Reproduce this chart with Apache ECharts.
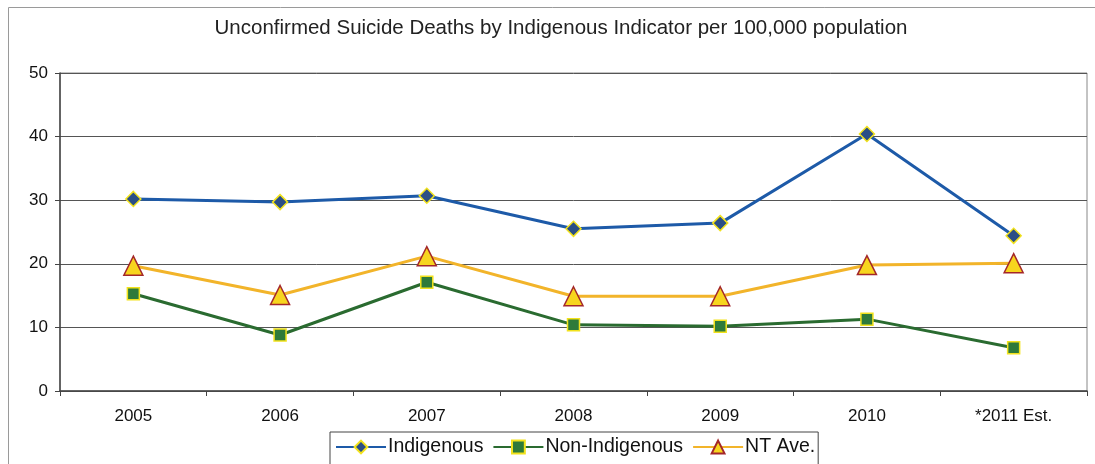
<!DOCTYPE html>
<html>
<head>
<meta charset="utf-8">
<script src="https://cdn.jsdelivr.net/npm/echarts@6/dist/echarts.min.js"></script>
<style>
  html, body { margin: 0; padding: 0; background: #fff; }
  #chart { width: 1095px; height: 464px; }
</style>
</head>
<body>
<div id="chart"></div>
<script>
// Rates per 100,000 population
const years = ['2005', '2006', '2007', '2008', '2009', '2010', '*2011 Est.'];
const indigenous = [30.2, 29.7, 30.7, 25.5, 26.4, 40.4, 24.4];
const nonIndigenous = [15.3, 8.8, 17.1, 10.4, 10.2, 11.3, 6.8];
const ntAverage = [19.7, 15.1, 21.2, 14.9, 14.9, 19.8, 20.1];
const yTicks = { min: 0, max: 50, interval: 10 };

const font = 'Liberation Sans, Arial, sans-serif';
const chart = echarts.init(document.getElementById('chart'));

function lineSeries(name, data, color, symbol, size, fill, edge) {
  return {
    name, type: 'line', data,
    symbol, symbolSize: size,
    showAllSymbol: true,
    lineStyle: { color, width: 3 },
    itemStyle: { color: fill, borderColor: edge, borderWidth: 1.5 },
    emphasis: { disabled: true },
    z: 3
  };
}

chart.setOption({
  animation: false,
  backgroundColor: '#fff',
  textStyle: { fontFamily: font },
  title: {
    text: 'Unconfirmed Suicide Deaths by Indigenous Indicator per 100,000 population',
    left: 556, top: 13, textAlign: 'center',
    textStyle: { fontFamily: font, fontSize: 20.5, fontWeight: 'normal', color: '#222' }
  },
  graphic: [{
    type: 'rect',
    shape: { x: 8.5, y: 7.5, width: 1100, height: 470 },
    style: { fill: 'none', stroke: '#9a9a9a', lineWidth: 1 },
    silent: true, z: -1
  }],
  grid: { left: 60, right: 8, top: 73, bottom: 73, show: true, borderColor: '#888', borderWidth: 1 },
  legend: {
    left: 330, top: 432,
    width: 495,
    padding: [5, 3, 8, 5],
    borderColor: '#444', borderWidth: 1,
    itemGap: 9,
    itemWidth: 50, itemHeight: 16,
    textStyle: { fontFamily: font, fontSize: 19.5, color: '#111', padding: [0, 0, 0, -3] },
    data: ['Indigenous', 'Non-Indigenous', 'NT Ave.']
  },
  xAxis: {
    type: 'category',
    data: years,
    boundaryGap: true,
    axisLine: { lineStyle: { color: '#444', width: 1.5 } },
    axisTick: { show: true, length: 5, lineStyle: { color: '#444' } },
    axisLabel: { color: '#111', fontSize: 17, fontFamily: font, margin: 17 },
    splitLine: { show: false }
  },
  yAxis: {
    type: 'value',
    min: yTicks.min, max: yTicks.max, interval: yTicks.interval,
    axisLine: { show: true, lineStyle: { color: '#444', width: 1.5 } },
    axisTick: { show: true, length: 5, lineStyle: { color: '#444' } },
    axisLabel: { color: '#111', fontSize: 17, fontFamily: font, margin: 12 },
    splitLine: { show: true, lineStyle: { color: '#555', width: 1 } }
  },
  series: [
    lineSeries('Indigenous', indigenous, '#1d5aa8', 'diamond', 15, '#2b4f86', '#f2e21c'),
    lineSeries('Non-Indigenous', nonIndigenous, '#2a6b30', 'rect', 12, '#2e7a3a', '#f2e21c'),
    lineSeries('NT Ave.', ntAverage, '#f2b42a', 'triangle', 19, '#f7d51e', '#a3272a')
  ]
});
</script>
</body>
</html>
